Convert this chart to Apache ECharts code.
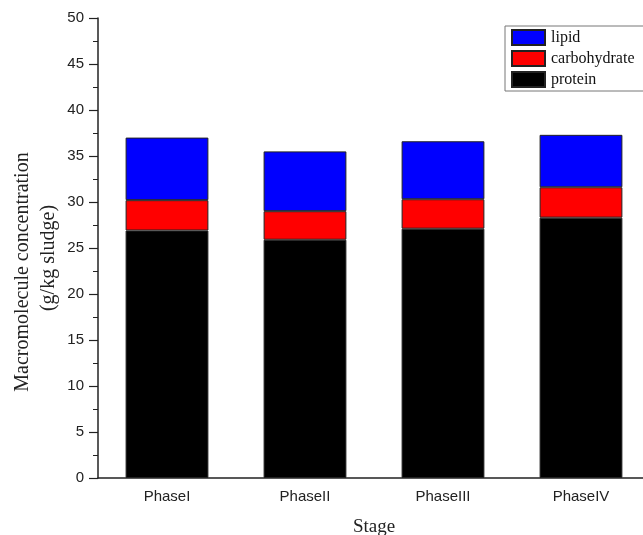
<!DOCTYPE html>
<html>
<head>
<meta charset="utf-8">
<script src="https://cdn.jsdelivr.net/npm/echarts@6/dist/echarts.min.js"></script>
<style>
  html, body { margin: 0; padding: 0; background: #fff; }
  #chart { width: 643px; height: 535px; }
</style>
</head>
<body>
<div id="chart"></div>
<script>
// stages on the x axis
const stages = ['PhaseI', 'PhaseII', 'PhaseIII', 'PhaseIV']
// stacked components, g/kg sludge
const protein = [26.9, 25.9, 27.1, 28.3]
const carbohydrate = [3.3, 3.1, 3.2, 3.3]
const lipid = [6.8, 6.5, 6.3, 5.7]

const serif = '"Liberation Serif", "Times New Roman", serif'
const sans = '"Liberation Sans", Arial, sans-serif'

function barSeries(name, data, color) {
  return {
    name: name,
    type: 'bar',
    stack: 'total',
    data: data,
    barWidth: '60%',
    itemStyle: { color: color, borderColor: '#222', borderWidth: 1 }
  }
}

let chart = echarts.init(document.getElementById('chart'))
chart.setOption({
  animation: false,
  backgroundColor: '#fff',
  grid: { left: 98, right: -7, top: 18, bottom: 57, containLabel: false, outerBoundsMode: 'none' },
  legend: {
    orient: 'vertical',
    left: 505,
    top: 26,
    data: ['lipid', 'carbohydrate', 'protein'],
    icon: 'rect',
    itemWidth: 33,
    itemHeight: 15,
    itemGap: 4,
    padding: [3, 14, 3, 6],
    borderColor: '#777',
    borderWidth: 1,
    backgroundColor: '#fff',
    textStyle: { fontFamily: serif, fontSize: 16, color: '#111', padding: [0, 0, 0, 1] }
  },
  xAxis: {
    type: 'category',
    data: stages,
    name: 'Stage',
    nameLocation: 'middle',
    nameGap: 40,
    nameTextStyle: { fontFamily: serif, fontSize: 19, color: '#222' },
    axisLine: { lineStyle: { color: '#222', width: 1.5 } },
    axisTick: { show: false },
    axisLabel: { fontFamily: sans, fontSize: 15, color: '#222', margin: 11 }
  },
  yAxis: {
    type: 'value',
    min: 0,
    max: 50,
    interval: 5,
    name: '{a|Macromolecule concentration}\n{b|(g/kg sludge)}',
    nameLocation: 'middle',
    nameGap: 36,
    nameMoveOverlap: false,
    nameTextStyle: {
      fontFamily: serif, fontSize: 20, color: '#222', lineHeight: 26,
      rich: {
        a: { fontFamily: serif, fontSize: 20, color: '#222', lineHeight: 26, padding: [0, 48, 0, 0] },
        b: { fontFamily: serif, fontSize: 20, color: '#222', lineHeight: 26, padding: [0, 20, 0, 0] }
      }
    },
    axisLine: { show: true, lineStyle: { color: '#222', width: 1.5 } },
    axisTick: { show: true, length: 9, lineStyle: { color: '#222', width: 1.2 } },
    minorTick: { show: true, splitNumber: 2, length: 5, lineStyle: { color: '#222', width: 1 } },
    splitLine: { show: false },
    axisLabel: { fontFamily: sans, fontSize: 15, color: '#222', margin: 14 }
  },
  series: [
    barSeries('protein', protein, '#000000'),
    barSeries('carbohydrate', carbohydrate, '#ff0000'),
    barSeries('lipid', lipid, '#0000ff')
  ]
})
</script>
</body>
</html>
